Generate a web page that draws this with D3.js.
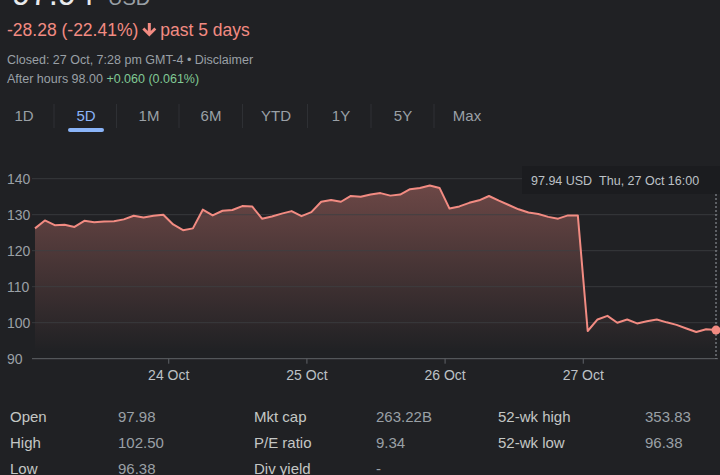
<!DOCTYPE html>
<html>
<head>
<meta charset="utf-8">
<script src="https://cdn.jsdelivr.net/npm/d3@7"></script>
<style>
  html, body { margin: 0; padding: 0; background: #202124; }
  svg { display: block; font-family: "Liberation Sans", Arial, sans-serif; }
</style>
</head>
<body>
<svg id="chart" width="720" height="475"></svg>
<script>
// 30-minute closes, 14 per session: 21, 24, 25, 26, 27 Oct
const prices = [
  126.2, 128.4, 127.1, 127.2, 126.6, 128.3, 127.9, 128.1, 128.2, 128.7, 129.7, 129.2, 129.7, 130.0,
  127.3, 125.7, 126.2, 131.4, 129.8, 131.1, 131.3, 132.4, 132.3, 128.9, 129.5, 130.3, 131.0, 129.6,
  130.7, 133.6, 134.1, 133.6, 135.2, 135.0, 135.6, 136.0, 135.3, 135.6, 137.1, 137.4, 138.1, 137.4,
  131.7, 132.3, 133.3, 134.0, 135.2, 133.9, 132.7, 131.5, 130.6, 130.2, 129.4, 128.9, 129.8, 129.8,
  97.7, 100.9, 101.9, 100.0, 100.9, 99.8, 100.4, 100.9, 100.1, 99.4, 98.4, 97.4, 98.2, 97.94
];
const pointsPerDay = 14;
const dayLabels = ["24 Oct", "25 Oct", "26 Oct", "27 Oct"];
const yTicks = [90, 100, 110, 120, 130, 140];
const ranges = ["1D", "5D", "1M", "6M", "YTD", "1Y", "5Y", "Max"];
const statLabels = [["Open", "High", "Low"], ["Mkt cap", "P/E ratio", "Div yield"], ["52-wk high", "52-wk low"]];
const statValues = [["97.98", "102.50", "96.38"], ["263.22B", "9.34", "-"], ["353.83", "96.38"]];

const svg = d3.select("#chart");
const red = "#f28b82";

// header
svg.append("text").attr("x", 12).attr("y", 5).attr("font-size", 33).attr("fill", "#e8eaed").text("97.94");
svg.append("text").attr("x", 108).attr("y", 5).attr("font-size", 20).attr("fill", "#9aa0a6").text("USD");

const chg = svg.append("text").attr("x", 7).attr("y", 36).attr("font-size", 17.5).attr("fill", red)
  .text("-28.28 (-22.41%)");
const chgEnd = 7 + chg.node().getComputedTextLength();
// down arrow
const ax = chgEnd + 11;
svg.append("path")
  .attr("d", `M${ax - 1.5},23 h3 v8 l3.5,-3.5 l2,2 l-7,7 l-7,-7 l2,-2 l3.5,3.5 z`)
  .attr("fill", red);
svg.append("text").attr("x", ax + 11).attr("y", 36).attr("font-size", 17.5).attr("fill", red)
  .text("past 5 days");

svg.append("text").attr("x", 7).attr("y", 64).attr("font-size", 12.5).attr("fill", "#9aa0a6")
  .text("Closed: 27 Oct, 7:28 pm GMT-4 \u2022 Disclaimer");
const ah = svg.append("text").attr("x", 7).attr("y", 83).attr("font-size", 12.5).attr("fill", "#9aa0a6");
ah.append("tspan").text("After hours 98.00 ");
ah.append("tspan").attr("fill", "#81c995").text("+0.060 (0.061%)");

// range tabs
const tabX = [24, 86, 149, 211, 276, 341, 403, 467];
ranges.forEach((r, i) => {
  svg.append("text").attr("x", tabX[i]).attr("y", 121).attr("text-anchor", "middle")
    .attr("font-size", 15).attr("fill", r === "5D" ? "#8ab4f8" : "#9aa0a6").text(r);
  if (i > 0) {
    const sx = (tabX[i - 1] + tabX[i]) / 2 - 1;
    svg.append("line").attr("x1", sx).attr("x2", sx).attr("y1", 104).attr("y2", 128)
      .attr("stroke", "#2e3034").attr("stroke-width", 1);
  }
});
svg.append("rect").attr("x", 68).attr("y", 128).attr("width", 36).attr("height", 4)
  .attr("rx", 2).attr("fill", "#8ab4f8");

// chart
const x = d3.scaleLinear().domain([0, prices.length - 1]).range([35, 716]);
const y = d3.scaleLinear().domain([90, 140]).range([358.7, 178.7]);
const data = prices.map((v, i) => ({ i, v }));

const defs = svg.append("defs");
const grad = defs.append("linearGradient").attr("id", "fillGrad")
  .attr("gradientUnits", "userSpaceOnUse").attr("x1", 0).attr("x2", 0)
  .attr("y1", y(138)).attr("y2", y(92));
grad.append("stop").attr("offset", 0).attr("stop-color", red).attr("stop-opacity", 0.36);
grad.append("stop").attr("offset", 1).attr("stop-color", red).attr("stop-opacity", 0);

const area = d3.area().x(d => x(d.i)).y0(y(90)).y1(d => y(d.v));
svg.append("path").datum(data).attr("d", area).attr("fill", "url(#fillGrad)");

// grid
svg.append("g").selectAll("line").data(yTicks.filter(t => t !== 90)).enter().append("line")
  .attr("x1", 32).attr("x2", 718).attr("y1", d => y(d)).attr("y2", d => y(d))
  .attr("stroke", "#3c4043").attr("stroke-opacity", 0.8).attr("stroke-width", 1);

svg.append("g").selectAll("text").data(yTicks).enter().append("text")
  .attr("x", 7).attr("y", d => y(d) + 5).attr("font-size", 14).attr("fill", "#9aa0a6")
  .text(d => d);

// x axis
const dayTicks = dayLabels.map((_, k) => (k + 1) * pointsPerDay - 0.5);
const xAxis = svg.append("g").attr("transform", `translate(0,${y(90)})`)
  .call(d3.axisBottom(x).tickValues(dayTicks).tickFormat((d, k) => dayLabels[k]).tickSize(5).tickPadding(6));
xAxis.select(".domain").remove();
xAxis.selectAll(".tick line").attr("stroke", "#5f6368");
xAxis.selectAll(".tick text").attr("fill", "#bdc1c6").attr("font-size", 14)
  .attr("font-family", "Liberation Sans, Arial, sans-serif");
svg.append("line").attr("x1", 32).attr("x2", 718).attr("y1", y(90)).attr("y2", y(90))
  .attr("stroke", "#5f6368").attr("stroke-width", 1);

// line
const line = d3.line().x(d => x(d.i)).y(d => y(d.v));
svg.append("path").datum(data).attr("d", line).attr("fill", "none")
  .attr("stroke", red).attr("stroke-width", 2).attr("stroke-linejoin", "round");

// hover marker
const last = data[data.length - 1];
svg.append("line").attr("x1", x(last.i)).attr("x2", x(last.i)).attr("y1", 194).attr("y2", y(90))
  .attr("stroke", "#9aa0a6").attr("stroke-width", 1).attr("stroke-dasharray", "2,2");
svg.append("circle").attr("cx", x(last.i)).attr("cy", y(last.v)).attr("r", 4.5).attr("fill", red);

svg.append("rect").attr("x", 522).attr("y", 166).attr("width", 198).attr("height", 28)
  .attr("fill", "#1b1c1f");
svg.append("text").attr("x", 531).attr("y", 185).attr("font-size", 12.5).attr("fill", "#bdc1c6")
  .text("97.94 USD\u00a0\u00a0Thu, 27 Oct 16:00");

// stats table
const colX = [[10, 118], [254, 376], [498, 645]];
const rowY = [422, 448, 474];
statLabels.forEach((col, c) => {
  col.forEach((lab, r) => {
    svg.append("text").attr("x", colX[c][0]).attr("y", rowY[r]).attr("font-size", 15)
      .attr("fill", "#c4c7c5").text(lab);
    svg.append("text").attr("x", colX[c][1]).attr("y", rowY[r]).attr("font-size", 15)
      .attr("fill", "#9aa0a6").text(statValues[c][r]);
  });
});
</script>
</body>
</html>
